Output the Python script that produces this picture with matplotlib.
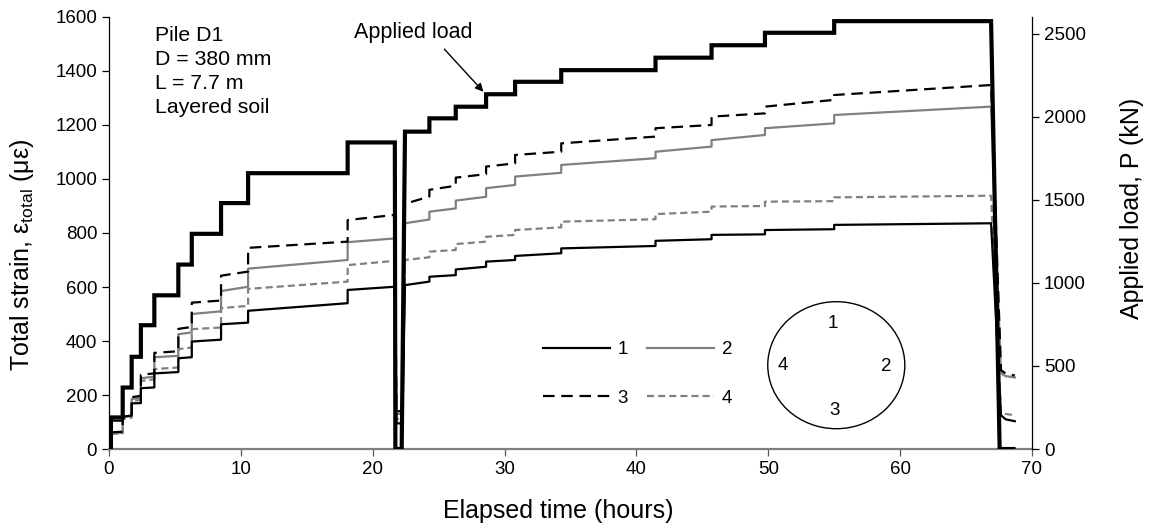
import matplotlib
matplotlib.use('Agg')
import matplotlib.pyplot as plt
from matplotlib.patches import Ellipse

plt.rcParams['font.family'] = ['Liberation Sans', 'DejaVu Sans']
plt.rcParams['font.size'] = 13.5

# ---------------- data ----------------
hold_t0 = [0.15, 1.04, 1.72, 2.42, 3.44, 5.26, 6.28, 8.50, 10.55, 18.10,
           22.45, 24.30, 26.30, 28.60, 30.80, 34.30, 41.45, 45.70, 49.75, 55.00]
hold_t1 = [1.04, 1.72, 2.42, 3.44, 5.26, 6.28, 8.50, 10.55, 18.10, 21.68,
           24.30, 26.30, 28.60, 30.80, 34.30, 41.45, 45.70, 49.75, 55.00, 66.90]
load_kN = [190, 370, 555, 745, 925, 1110, 1295, 1480, 1660, 1845,
           1910, 1990, 2060, 2135, 2210, 2280, 2355, 2430, 2505, 2575]

g1_start = [105, 120, 169, 225, 280, 336, 398, 462, 512, 589,
            607, 638, 665, 694, 715, 743, 771, 793, 811, 830]
g1_end = [105, 124, 170, 228, 285, 340, 405, 468, 540, 601,
          620, 644, 675, 700, 725, 752, 777, 795, 814, 836]
g2_start = [58, 118, 185, 262, 340, 425, 500, 585, 668, 766,
            836, 879, 920, 966, 1009, 1052, 1101, 1144, 1188, 1237]
g2_end = [60, 122, 190, 268, 345, 432, 510, 601, 700, 780,
          850, 891, 934, 978, 1023, 1077, 1120, 1163, 1206, 1268]
g3_start = [62, 125, 192, 275, 356, 445, 542, 642, 745, 848,
            908, 960, 1005, 1046, 1089, 1132, 1188, 1231, 1268, 1311]
g3_end = [64, 130, 197, 280, 362, 452, 550, 657, 768, 867,
          935, 975, 1018, 1058, 1101, 1157, 1200, 1243, 1293, 1348]
g4_start = [56, 112, 178, 252, 296, 370, 444, 522, 593, 681,
            700, 731, 759, 786, 811, 842, 870, 898, 916, 932]
g4_end = [58, 116, 182, 258, 302, 376, 450, 530, 620, 697,
          710, 737, 768, 793, 821, 851, 879, 900, 918, 938]

# first unloading (between holds 9 and 10)
unload1_t = [21.80, 22.25]
load_unload1_t = [21.72, 22.20]
res1 = {'g1': 95, 'g2': 130, 'g3': 140, 'g4': 110}
# final unloading
unload2_t = [67.65, 68.0, 68.7]
load_unload2_t = [67.55, 68.6]
res2 = {'g1': [125, 110, 103], 'g2': [280, 270, 265],
        'g3': [292, 280, 272], 'g4': [140, 130, 125]}


def build_gauge(starts, ends, r1, r2):
    x, y = [], []
    for i in range(len(hold_t0)):
        if i == 10:
            x += unload1_t
            y += [r1, r1]
        x += [hold_t0[i], hold_t1[i]]
        y += [starts[i], ends[i]]
    x += unload2_t
    y += r2
    return x, y


def build_load():
    x, y = [hold_t0[0]], [0]
    for i in range(len(hold_t0)):
        if i == 10:
            x += load_unload1_t
            y += [0, 0]
        x += [hold_t0[i], hold_t1[i]]
        y += [load_kN[i], load_kN[i]]
    x += load_unload2_t
    y += [0, 0]
    return x, y


# ---------------- figure ----------------
fig = plt.figure(figsize=(11.52, 5.29), dpi=100)
ax = fig.add_axes([0.0946, 0.1512, 0.8012, 0.8167])
ax2 = ax.twinx()

gray = '#808080'
x1, y1 = build_gauge(g1_start, g1_end, res1['g1'], res2['g1'])
x2, y2 = build_gauge(g2_start, g2_end, res1['g2'], res2['g2'])
x3, y3 = build_gauge(g3_start, g3_end, res1['g3'], res2['g3'])
x4, y4 = build_gauge(g4_start, g4_end, res1['g4'], res2['g4'])

lw = 1.6
l2, = ax.plot(x2, y2, color=gray, lw=lw, label='2')
l4, = ax.plot(x4, y4, color=gray, lw=lw, ls=(0, (3.2, 1.8)), label='4')
l3, = ax.plot(x3, y3, color='black', lw=lw, ls=(0, (5.2, 3.0)), label='3')
l1, = ax.plot(x1, y1, color='black', lw=lw, label='1')

xl, yl = build_load()
ax2.plot(xl, yl, color='black', lw=3.0, solid_joinstyle='miter')

ax.set_xlim(0, 70)
ax.set_ylim(0, 1600)
ax2.set_ylim(0, 2600)
ax.set_xticks(range(0, 71, 10))
ax.set_yticks(range(0, 1601, 200))
ax2.set_yticks(range(0, 2501, 500))

for a in (ax, ax2):
    a.spines['top'].set_visible(False)
ax2.spines['left'].set_visible(False)
ax2.spines['bottom'].set_visible(False)
ax.spines['right'].set_visible(False)
ax.spines['bottom'].set_color('#7f7f7f')
ax.spines['bottom'].set_linewidth(1.6)
ax.spines['left'].set_linewidth(0.9)
ax2.spines['right'].set_linewidth(0.9)
ax.tick_params(axis='both', direction='out', length=5, width=0.9)
ax.tick_params(axis='x', color='#595959')
ax2.tick_params(axis='y', direction='out', length=5, width=0.9)

label_fs = 18
ax.set_xlabel('Elapsed time (hours)', fontsize=label_fs, va='center')
ax.xaxis.set_label_coords(0.487, -0.1435)
ax.set_ylabel('Total strain, $\\mathregular{ε_{total}}$ (με)',
              fontsize=label_fs, va='center')
ax.yaxis.set_label_coords(-0.0943, 0.449)
ax2.set_ylabel('Applied load, P (kN)', fontsize=label_fs, va='center')
ax2.yaxis.set_label_coords(1.1083, 0.558)

ax.text(3.49, 1566, 'Pile D1\nD = 380 mm\nL = 7.7 m\nLayered soil',
        ha='left', va='top', linespacing=1.34, fontsize=15.3)

ax2.annotate('Applied load', xy=(28.4, 2150), xytext=(23.05, 2505),
             ha='center', va='center', fontsize=15.5,
             arrowprops=dict(arrowstyle='-|>', color='black', lw=1.0,
                             relpos=(0.72, 0.0), shrinkA=3, shrinkB=0,
                             mutation_scale=12))

ax.legend(handles=[l1, l3, l2, l4], labels=['1', '3', '2', '4'], ncol=2,
          frameon=False, loc='upper left', bbox_to_anchor=(0.47, 0.250),
          handlelength=3.6, handletextpad=0.4, columnspacing=1.0,
          labelspacing=1.67, borderpad=0, borderaxespad=0)

ax.add_patch(Ellipse((0.788, 0.194), 0.1485, 0.294, transform=ax.transAxes,
                     fill=False, ec='black', lw=1.0))
for lab, px, py in [('1', 0.7847, 0.291), ('4', 0.7306, 0.194),
                    ('3', 0.7866, 0.0903), ('2', 0.8426, 0.1905)]:
    ax.text(px, py, lab, transform=ax.transAxes, ha='center', va='center')

fig.savefig('out.png', dpi=100)
